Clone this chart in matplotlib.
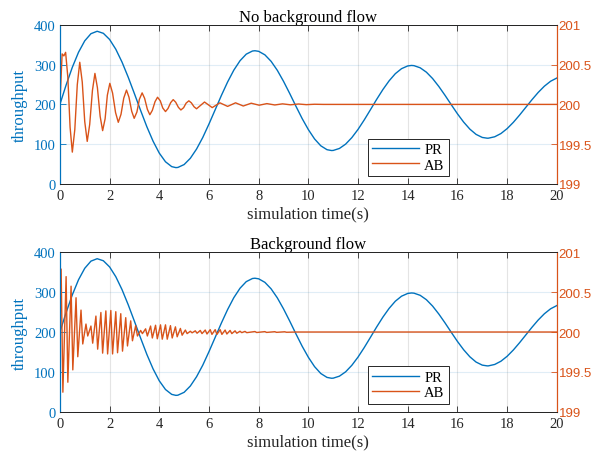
import matplotlib
matplotlib.use("Agg")
import matplotlib.pyplot as plt

# ---------------- data ----------------
# PR throughput (left axis), identical in both panels
pr_t = [0, 0.25, 0.5, 0.75, 1.0, 1.25, 1.5, 1.75, 2.0, 2.25, 2.5, 2.75, 3.0, 3.25,
        3.5, 3.75, 4.0, 4.25, 4.5, 4.67, 4.75, 5.0, 5.25, 5.5, 5.75, 6.0, 6.25, 6.5,
        6.75, 7.0, 7.25, 7.5, 7.75, 7.85, 8.0, 8.25, 8.5, 8.75, 9.0, 9.25, 9.5, 9.75,
        10.0, 10.25, 10.5, 10.75, 10.93, 11.0, 11.25, 11.5, 11.75, 12.0, 12.25, 12.5,
        12.75, 13.0, 13.25, 13.5, 13.75, 14.0, 14.15, 14.25, 14.5, 14.75, 15.0, 15.25,
        15.5, 15.75, 16.0, 16.25, 16.5, 16.75, 17.0, 17.2, 17.25, 17.5, 17.75, 18.0,
        18.25, 18.5, 18.75, 19.0, 19.25, 19.5, 19.75, 20.0]
pr_v = [200, 248.7, 293.3, 331.2, 359.9, 377.9, 384, 378.8, 363.4, 338.8, 306.5, 268.4,
        226.9, 184.6, 143.8, 107.5, 77.5, 55.7, 43.5, 41, 41.5, 48.7, 64.5, 87.7, 116.8,
        150.7, 186.6, 222.6, 256.4, 286.2, 309.9, 326.4, 334.3, 335, 333.5, 324.7, 308.4,
        285.8, 258.1, 227.4, 195.4, 164.4, 136.6, 113.1, 95.9, 86.1, 84, 84.2, 89.2,
        100.1, 116.5, 137.2, 161.1, 186.8, 212.8, 237.4, 259.3, 277.3, 289.9, 296.8, 298,
        297.5, 292.1, 281.1, 265.1, 245.2, 222.9, 199.4, 176.4, 155.5, 137.8, 124.6,
        116.9, 115, 115.1, 118.6, 126.7, 139.1, 154.9, 173.1, 192.5, 211.9, 230.1, 245.9,
        258.3, 266.4]

# AB, no background flow (right axis)
ab1_t = [0.00, 0.09, 0.16, 0.23, 0.32, 0.41, 0.50, 0.60, 0.70, 0.80, 0.90, 1.00, 1.10,
         1.20, 1.31, 1.41, 1.51, 1.62, 1.72, 1.82, 1.91, 2.01, 2.12, 2.24, 2.35,
         2.46, 2.57, 2.68, 2.78, 2.89, 2.99, 3.10, 3.20, 3.31, 3.41, 3.52, 3.62,
         3.72, 3.83, 3.93, 4.04, 4.14, 4.25, 4.35, 4.46, 4.56, 4.66, 4.77, 4.87,
         4.98, 5.08, 5.19, 5.29, 5.40, 5.50, 5.82, 6.13, 6.44, 6.75, 7.07, 7.38,
         7.70, 8.02, 8.33, 8.65, 8.96, 9.28, 9.60, 9.92, 10.25, 10.60, 20.0]
ab1_v = [200.000, 200.635, 200.610, 200.655, 200.341, 199.714, 199.400, 199.683, 200.248,
         200.530, 200.281, 199.784, 199.535, 199.749, 200.176, 200.390, 200.210, 199.850,
         199.670, 199.819, 200.116, 200.265, 200.143, 199.898, 199.775, 199.876, 200.079,
         200.180, 200.091, 199.914, 199.825, 199.905, 200.065, 200.145, 200.076, 199.939,
         199.870, 199.925, 200.035, 200.090, 200.045, 199.955, 199.910, 199.948, 200.023,
         200.060, 200.028, 199.963, 199.930, 199.959, 200.016, 200.045, 200.020, 199.970,
         199.945, 200.030, 199.960, 200.020, 199.975, 200.020, 199.980, 200.015, 199.990,
         200.010, 199.993, 200.007, 199.995, 200.005, 199.997, 200.002, 200.000, 200.000]

# AB, background flow (right axis): alternating peaks and troughs
ab2_peak_t = [0.05, 0.25, 0.45, 0.65, 0.85, 1.05, 1.25, 1.45, 1.65, 1.85, 2.05, 2.25,
              2.45, 2.65, 2.85, 3.05, 3.25, 3.45, 3.65, 3.85, 4.05, 4.25, 4.45, 4.65,
              4.85, 5.05, 5.25, 5.45, 5.65, 5.85, 6.05, 6.25, 6.45, 6.65, 6.85, 7.05,
              7.25, 7.45, 7.85, 8.25, 8.65, 9.05]
ab2_peak_v = [200.790, 200.695, 200.575, 200.430, 200.275, 200.100, 200.075, 200.200,
              200.245, 200.265, 200.270, 200.255, 200.230, 200.180, 200.140, 200.080,
              200.020, 200.040, 200.075, 200.085, 200.090, 200.090, 200.080, 200.065,
              200.045, 200.025, 200.010, 200.015, 200.020, 200.025, 200.030, 200.030,
              200.030, 200.025, 200.020, 200.015, 200.010, 200.008, 200.006, 200.005,
              200.004, 200.003]
ab2_trough_t = [0.12, 0.32, 0.52, 0.72, 0.92, 1.12, 1.32, 1.52, 1.72, 1.92, 2.12, 2.32,
                2.52, 2.72, 2.92, 3.12, 3.32, 3.52, 3.72, 3.92, 4.12, 4.32, 4.52, 4.72,
                4.92, 5.12, 5.32, 5.52, 5.72, 5.92, 6.12, 6.32, 6.52, 6.72, 6.92, 7.12,
                7.32, 7.52, 7.92, 8.32, 8.72, 9.12]
ab2_trough_v = [199.245, 199.370, 199.525, 199.690, 199.850, 199.950, 199.860, 199.785,
                199.735, 199.725, 199.725, 199.740, 199.760, 199.825, 199.890, 199.950,
                199.980, 199.950, 199.925, 199.915, 199.910, 199.910, 199.925, 199.940,
                199.960, 199.980, 199.990, 199.985, 199.980, 199.975, 199.970, 199.970,
                199.970, 199.975, 199.980, 199.985, 199.992, 199.992, 199.994, 199.995,
                199.996, 199.997]

titles = ["No background flow", "Background flow"]
series_names = ["PR", "AB"]
x_ticks = [0, 2, 4, 6, 8, 10, 12, 14, 16, 18, 20]
left_ticks = [0, 100, 200, 300, 400]
right_ticks = [199, 199.5, 200, 200.5, 201]
right_tick_labels = ["199", "199.5", "200", "200.5", "201"]

# -------------- build background-flow polyline ----------------
ab2_t = [0.0]
ab2_v = [200.0]
for tp, vp, tt, vt in zip(ab2_peak_t, ab2_peak_v, ab2_trough_t, ab2_trough_v):
    ab2_t += [tp, tt]
    ab2_v += [vp, vt]
ab2_t += [9.5, 20.0]
ab2_v += [200.0, 200.0]

# ---------------- styling ----------------
BLUE = "#0072BD"
ORANGE = "#D95319"
DARK = "#262626"
SERIF = ["Liberation Serif", "DejaVu Serif"]
SANS = ["Liberation Sans", "DejaVu Sans"]

plt.rcParams["font.family"] = SERIF

fig = plt.figure(figsize=(5.93, 4.60), dpi=100)
positions = [[0.101, 0.598, 0.838, 0.3457], [0.101, 0.1028, 0.838, 0.3465]]
ab_sets = [(ab1_t, ab1_v), (ab2_t, ab2_v)]

for pos, title, (abt, abv) in zip(positions, titles, ab_sets):
    ax = fig.add_axes(pos)
    ax2 = ax.twinx()

    l1, = ax.plot(pr_t, pr_v, color=BLUE, lw=1.0)
    l2, = ax2.plot(abt, abv, color=ORANGE, lw=1.0)

    ax.set_xlim(0, 20)
    ax.set_ylim(0, 400)
    ax2.set_ylim(199, 201)
    ax.set_xticks(x_ticks)
    ax.set_yticks(left_ticks)
    ax2.set_yticks(right_ticks)
    ax2.set_yticklabels(right_tick_labels, fontfamily=SANS)

    ax.set_axisbelow(True)
    ax.grid(True, axis="x", color=DARK, alpha=0.12, lw=0.8)
    ax.grid(True, axis="y", color=BLUE, alpha=0.12, lw=0.8)

    ax.tick_params(axis="x", direction="in", top=True, length=4, width=0.6,
                   colors=DARK, labelsize=10.5, pad=4)
    ax.tick_params(axis="y", direction="in", length=4, width=0.6,
                   colors=BLUE, labelsize=10.5, pad=3)
    ax2.tick_params(axis="y", direction="in", length=4, width=0.6,
                    colors=ORANGE, labelsize=9.5, pad=1.2)

    for a in (ax, ax2):
        a.spines["top"].set_color(DARK)
        a.spines["bottom"].set_color(DARK)
        a.spines["top"].set_linewidth(0.7)
        a.spines["bottom"].set_linewidth(0.7)
        a.spines["left"].set_color(BLUE)
        a.spines["right"].set_color(ORANGE)
        a.spines["left"].set_linewidth(0.8)
        a.spines["right"].set_linewidth(0.8)

    ax.set_ylabel("throughput", color=BLUE, fontsize=12, labelpad=4)
    ax.set_xlabel("simulation time(s)", color=DARK, fontsize=12, labelpad=2)
    ax.set_title(title, color="black", fontsize=12, pad=3)

    leg = ax2.legend([l1, l2], series_names, loc="upper left",
                     bbox_to_anchor=(0.62, 0.285), fontsize=10.5,
                     handlelength=3.2, handletextpad=0.35, borderpad=0.3,
                     labelspacing=0.15, borderaxespad=0.0, fancybox=False,
                     framealpha=1.0, edgecolor=DARK)
    leg.get_frame().set_linewidth(0.7)

fig.savefig("out.png", dpi=100, facecolor="white")
